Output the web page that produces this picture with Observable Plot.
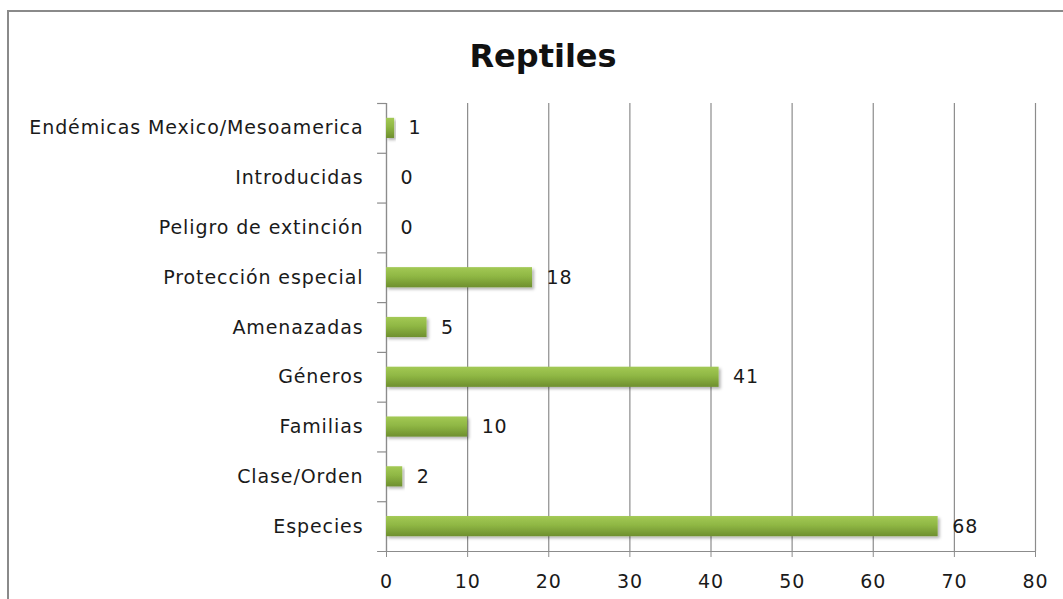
<!DOCTYPE html>
<html>
<head>
<meta charset="utf-8">
<script src="https://cdn.jsdelivr.net/npm/d3@7"></script>
<script src="https://cdn.jsdelivr.net/npm/@observablehq/plot@0.6"></script>
<style>
  html, body { margin: 0; padding: 0; background: #fff; overflow: hidden; }
  #wrap { position: relative; width: 1063px; height: 599px; }
  #border { position: absolute; left: 7px; top: 10px; width: 1070px; height: 700px; border: 2px solid #8a8a8a; box-sizing: border-box; }
  #title { position: absolute; left: 0; width: 1086px; top: 37px; text-align: center; font-family: "DejaVu Sans", sans-serif; font-weight: bold; font-size: 32px; color: #111; }
  #chart { position: absolute; left: 0; top: 0; }
  #chart text { letter-spacing: 0.9px; }
</style>
</head>
<body>
<div id="wrap">
  <div id="border"></div>
  <div id="title">Reptiles</div>
  <div id="chart"></div>
</div>
<script>
const categories = [
  "Endémicas Mexico/Mesoamerica",
  "Introducidas",
  "Peligro de extinción",
  "Protección especial",
  "Amenazadas",
  "Géneros",
  "Familias",
  "Clase/Orden",
  "Especies"
];
const values = [1, 0, 0, 18, 5, 41, 10, 2, 68];
const xTicks = [0, 10, 20, 30, 40, 50, 60, 70, 80];

const data = categories.map((c, i) => ({category: c, value: values[i]}));

const W = 1063, H = 599;
const mTop = 103, mBottom = 48, mLeft = 386, mRight = 28;
const bw = (H - mTop - mBottom) / categories.length;
const font = "DejaVu Sans, sans-serif";
const grid = "#8c8c8c";

const chart = Plot.plot({
  width: W,
  height: H,
  marginTop: mTop,
  marginBottom: mBottom,
  marginLeft: mLeft,
  marginRight: mRight,
  style: {fontFamily: font, background: "transparent", color: "#1a1a1a"},
  x: {domain: [0, 80]},
  y: {domain: categories, padding: 0, round: false},
  marks: [
    Plot.ruleX(xTicks, {stroke: grid, strokeWidth: 1.2}),
    Plot.ruleX([0], {stroke: grid, strokeWidth: 1.2}),
    Plot.ruleY([categories[0]], {y: d => d, x1: -1.1, x2: 0, dy: -bw / 2, stroke: grid, strokeWidth: 1.2}),
    Plot.ruleY(categories.slice(0, -1), {y: d => d, x1: -1.1, x2: 0, dy: bw / 2, stroke: grid, strokeWidth: 1.2}),
    Plot.ruleY([categories[categories.length - 1]], {y: d => d, x1: -1.1, x2: 80, dy: bw / 2, stroke: grid, strokeWidth: 1.2}),
    Plot.barX(data, {x: "value", y: "category", insetTop: 14.8, insetBottom: 14.8, fill: "url(#barGrad)", filter: d => d.value > 0}),
    Plot.text(data, {x: "value", y: "category", text: d => String(d.value), textAnchor: "start", dx: 14, fontSize: 19, fill: "#1a1a1a"}),
    Plot.axisY({tickSize: 0, tickPadding: 23, fontSize: 19, label: null}),
    Plot.axisX({ticks: xTicks, tickSize: 6, tickPadding: 17, fontSize: 19, label: null, stroke: grid})
  ]
});

// gradient + shadow defs for bars
const svg = d3.select(chart);
const defs = svg.insert("defs", ":first-child");
const g = defs.append("linearGradient").attr("id", "barGrad").attr("x1", 0).attr("y1", 0).attr("x2", 0).attr("y2", 1);
g.append("stop").attr("offset", "0%").attr("stop-color", "#a3c955");
g.append("stop").attr("offset", "45%").attr("stop-color", "#8fb744");
g.append("stop").attr("offset", "100%").attr("stop-color", "#6e8f2e");
const f = defs.append("filter").attr("id", "shadow").attr("x", "-5%").attr("y", "-30%").attr("width", "120%").attr("height", "180%");
f.append("feDropShadow").attr("dx", 2).attr("dy", 2).attr("stdDeviation", 1.5).attr("flood-color", "#000").attr("flood-opacity", 0.3);
svg.selectAll("rect").filter(function() { return this.getAttribute("fill") === "url(#barGrad)" || (this.parentNode && this.parentNode.getAttribute("fill") === "url(#barGrad)"); }).attr("filter", "url(#shadow)");

document.getElementById("chart").appendChild(chart);
</script>
</body>
</html>
